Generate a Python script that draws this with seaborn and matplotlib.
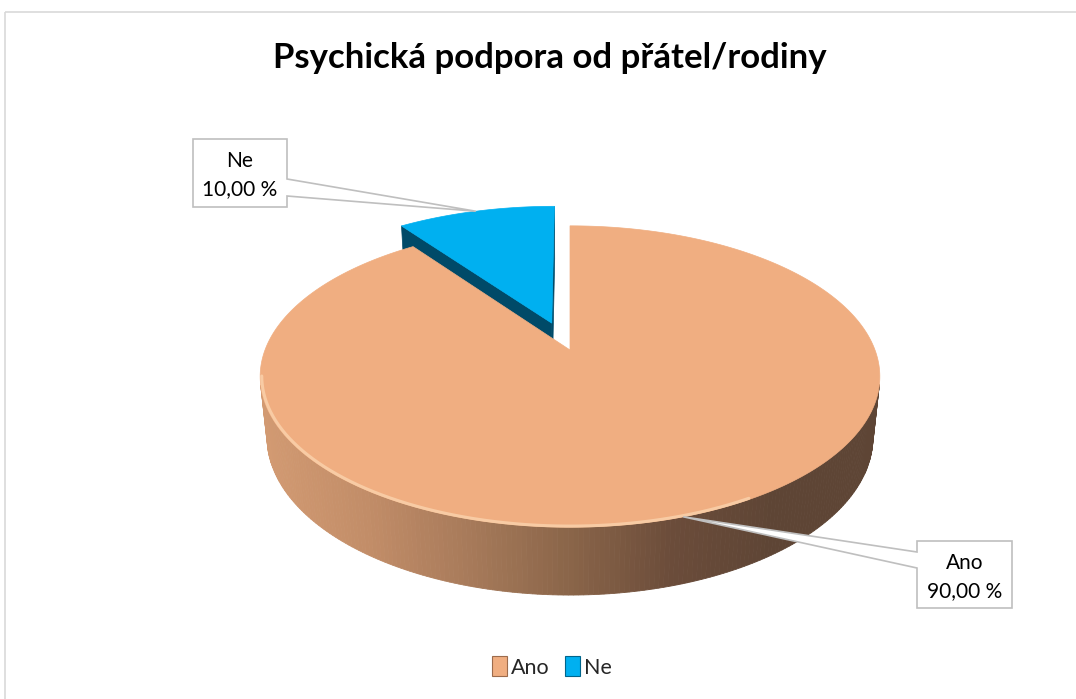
import numpy as np
import matplotlib
matplotlib.use("Agg")
import matplotlib.pyplot as plt
import seaborn as sns
from matplotlib.patches import Polygon, Rectangle, Patch
from matplotlib.colors import LinearSegmentedColormap

# ---------------- data ----------------
title = "Psychická podpora od přátel/rodiny"
categories = ["Ano", "Ne"]
values = [90.0, 10.0]
value_labels = ["90,00 %", "10,00 %"]
explode = [0.0, 0.2]

# ---------------- style ----------------
sns.set_theme(style="white")
plt.rcParams['font.family'] = ['Lato', 'DejaVu Sans']

top_colors = sns.color_palette(["#F0AE81", "#00B0F0"])
radial_colors = ["#8A6248", "#004A68"]
side_cmap = LinearSegmentedColormap.from_list(
    "side", ["#D29A72", "#C28D68", "#A77A5A", "#8A6549", "#6B4C3A", "#5E4535", "#5E4535"])

W, H = 1076, 699
fig = plt.figure(figsize=(W / 100, H / 100), dpi=100)
ax = fig.add_axes([0, 0, 1, 1])
ax.set_xlim(0, W)
ax.set_ylim(H, 0)
ax.axis('off')

# chart frame
ax.add_patch(Rectangle((5, 12), W, H, fill=False, ec="#D9D9D9", lw=1.2))

# ---------------- 3D projection ----------------
cx, cy, R = 570, 350, 305
elev = np.radians(28.6)
F = 4.99
h = 0.229
se, ce = np.sin(elev), np.cos(elev)
cam = np.array([0.0, -F * ce, F * se])


def proj(x, y, z):
    x = np.asarray(x, float); y = np.asarray(y, float); z = np.asarray(z, float)
    d = y * ce - z * se
    v = y * se + z * ce
    p = F / (F + d)
    return cx + R * x * p, cy - R * v * p


def rim(theta_deg, z, off, r=1.0):
    t = np.radians(np.atleast_1d(np.asarray(theta_deg, float)))
    return r * np.cos(t) + off[0], r * np.sin(t) + off[1], np.full(t.shape, z, dtype=float)


total = sum(values)
cum = np.concatenate([[0], np.cumsum(values)])
a0s = 90 - 360 * cum[:-1] / total
a1s = 90 - 360 * cum[1:] / total
mids = (a0s + a1s) / 2

slices = []
for i in range(len(values)):
    m = np.radians(mids[i])
    off = (explode[i] * np.cos(m), explode[i] * np.sin(m))
    slices.append(dict(i=i, a0=a0s[i], a1=a1s[i], mid=mids[i], off=off))

# draw back slices first
order = sorted(slices, key=lambda s: -(np.sin(np.radians(s['mid'])) + s['off'][1]))

for s in order:
    i, a0, a1, off = s['i'], s['a0'], s['a1'], s['off']
    ths = np.linspace(a0, a1, 400)
    zorder_base = 10 if i == 0 else 2
    # outer curved side
    for k in range(len(ths) - 1):
        tm = np.radians((ths[k] + ths[k + 1]) / 2)
        n = np.array([np.cos(tm), np.sin(tm), 0])
        P = np.array([np.cos(tm) + off[0], np.sin(tm) + off[1], 0])
        if np.dot(n, cam - P) <= 0:
            continue
        seg = ths[k:k + 2]
        X1, Y1 = proj(*rim(seg, 0, off))
        X2, Y2 = proj(*rim(seg[::-1], -h, off))
        xs = np.concatenate([X1, X2]); ys = np.concatenate([Y1, Y2])
        xm = xs.mean()
        frac = np.clip((xm - (cx - R)) / (2 * R), 0, 1)
        col = side_cmap(frac) if i == 0 else radial_colors[i]
        ax.add_patch(Polygon(np.c_[xs, ys], closed=True, fc=col, ec=col, lw=0.6, zorder=zorder_base))
    # radial faces
    for ang, nang in [(a0, a0 + 90), (a1, a1 - 90)]:
        n = np.array([np.cos(np.radians(nang)), np.sin(np.radians(nang)), 0])
        px, py, _ = rim(ang, 0, off, r=0.5)
        P = np.array([px[0], py[0], 0])
        if np.dot(n, cam - P) <= 1e-6:
            continue
        ax_, ay_, _ = rim(ang, 0, off, r=0.0)
        bx_, by_, _ = rim(ang, 0, off, r=1.0)
        X, Y = proj([ax_[0], bx_[0], bx_[0], ax_[0]], [ay_[0], by_[0], by_[0], ay_[0]], [0, 0, -h, -h])
        ax.add_patch(Polygon(np.c_[X, Y], closed=True, fc=radial_colors[i], ec=radial_colors[i],
                             lw=0.5, zorder=zorder_base + 1))
    # top face
    Xr, Yr = proj(*rim(ths, 0, off))
    Xa, Ya = proj(off[0], off[1], 0)
    poly = np.c_[np.r_[Xa, Xr], np.r_[Ya, Yr]]
    ax.add_patch(Polygon(poly, closed=True, fc=top_colors[i], ec=top_colors[i], lw=0.5,
                         zorder=zorder_base + 2))
    if i == 0:
        # soft highlight along front rim
        hl = np.linspace(190, 300, 200)
        Xh, Yh = proj(*rim(hl, 0, off, r=0.995))
        ax.plot(Xh, Yh, color="#F9CFA8", lw=2.2, alpha=0.9, zorder=zorder_base + 3,
                solid_capstyle='round')

# ---------------- data labels (callouts) ----------------
boxes = {0: (917, 541, 1012, 608, 'left', (552, 568)),
         1: (193, 139, 287, 207, 'right', (179, 196))}
for s in slices:
    i = s['i']
    tx, ty, _ = rim(s['mid'], 0, s['off'], r=1.0)
    TX, TY = proj(tx, ty, 0)
    TX, TY = float(TX[0]), float(TY[0])
    x0, y0, x1, y1, side, (b0, b1) = boxes[i]
    if side == 'right':
        pts = [(x0, y0), (x1, y0), (x1, b0), (TX, TY), (x1, b1), (x1, y1), (x0, y1)]
    else:
        pts = [(x0, y0), (x1, y0), (x1, y1), (x0, y1), (x0, b1), (TX, TY), (x0, b0)]
    ax.add_patch(Polygon(pts, closed=True, fc="white", ec="#BFBFBF", lw=1.2, zorder=20))
    xc = (x0 + x1) / 2
    ax.text(xc, y0 + 28, categories[i], ha='center', va='baseline', fontsize=15,
            color="black", zorder=21)
    ax.text(xc, y0 + 56, value_labels[i], ha='center', va='baseline', fontsize=15,
            color="black", zorder=21)

# ---------------- title ----------------
ax.text(550, 68, title, ha='center', va='baseline', fontsize=25, fontweight='bold',
        color="black", zorder=30)

# ---------------- legend ----------------
handles = [Patch(facecolor=top_colors[0], edgecolor="#9C6B4C", lw=0.8),
           Patch(facecolor=top_colors[1], edgecolor="#00658C", lw=0.8)]
ax.legend(handles, categories, loc='center', bbox_to_anchor=(552 / W, 1 - 667 / H),
          ncol=2, frameon=False, fontsize=15.5, handlelength=0.7, handleheight=1.0,
          handletextpad=0.2, columnspacing=0.7, borderpad=0)

fig.savefig("out.png", dpi=100)
